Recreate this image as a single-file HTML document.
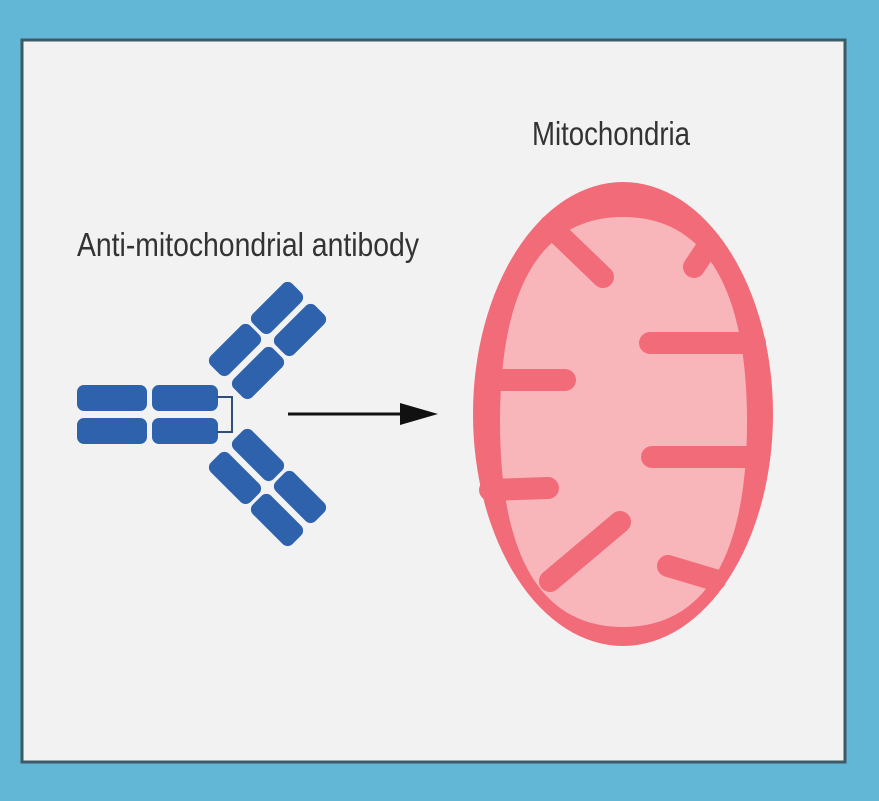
<!DOCTYPE html>
<html><head><style>
html,body{margin:0;padding:0;background:#62b6d6;width:879px;height:801px;overflow:hidden}
svg{display:block}
text{font-family:"Liberation Sans Narrow","Liberation Sans",sans-serif;fill:#333}
</style></head><body>
<svg width="879" height="801" viewBox="0 0 879 801" xmlns="http://www.w3.org/2000/svg">
<rect x="0" y="0" width="879" height="801" fill="#62b6d6"/>
<rect x="22" y="40" width="823" height="722" fill="#f2f2f3" stroke="#3d5a66" stroke-width="3"/>
<text x="248" y="256" font-size="33" text-anchor="middle" textLength="342" lengthAdjust="spacingAndGlyphs">Anti-mitochondrial antibody</text>
<text x="611" y="145" font-size="33" text-anchor="middle" textLength="158" lengthAdjust="spacingAndGlyphs">Mitochondria</text>
<g fill="#2f62ad">
<rect x="77" y="385" width="70" height="26" rx="7"/>
<rect x="152" y="385" width="66" height="26" rx="7"/>
<rect x="77" y="418" width="70" height="26" rx="7"/>
<rect x="152" y="418" width="66" height="26" rx="7"/>
<g transform="translate(235,350) rotate(-45)"><rect x="-28" y="-13" width="56" height="26" rx="7"/></g>
<g transform="translate(258,373) rotate(-45)"><rect x="-28" y="-13" width="56" height="26" rx="7"/></g>
<g transform="translate(277,308) rotate(-45)"><rect x="-28" y="-13" width="56" height="26" rx="7"/></g>
<g transform="translate(300,330) rotate(-45)"><rect x="-28" y="-13" width="56" height="26" rx="7"/></g>
<g transform="translate(235,478) rotate(45)"><rect x="-28" y="-13" width="56" height="26" rx="7"/></g>
<g transform="translate(258,455) rotate(45)"><rect x="-28" y="-13" width="56" height="26" rx="7"/></g>
<g transform="translate(277,520) rotate(45)"><rect x="-28" y="-13" width="56" height="26" rx="7"/></g>
<g transform="translate(300,497) rotate(45)"><rect x="-28" y="-13" width="56" height="26" rx="7"/></g>
</g>
<path d="M217 397 H232 V432 H217" fill="none" stroke="#2f4f7a" stroke-width="2"/>
<line x1="288" y1="414" x2="405" y2="414" stroke="#111" stroke-width="3"/>
<polygon points="400,403 438,414 400,425" fill="#111"/>
<ellipse cx="623" cy="414" rx="150" ry="232" fill="#f26b78"/>
<path d="M623,217 C712,217 747,300 747,422 C747,544 712,627 623,627 C534,627 500,544 500,422 C500,300 534,217 623,217 Z" fill="#f8b6bb"/>
<g stroke="#f26b78" stroke-width="22" stroke-linecap="round" fill="none">
<line x1="550" y1="226" x2="603" y2="277"/>
<line x1="710" y1="243" x2="694" y2="267"/>
<line x1="650" y1="343" x2="755" y2="343"/>
<line x1="490" y1="380" x2="565" y2="380"/>
<line x1="652" y1="457" x2="755" y2="457"/>
<line x1="490" y1="490" x2="548" y2="488"/>
<line x1="620" y1="522" x2="550" y2="581"/>
<line x1="668" y1="566" x2="715" y2="580"/>
</g>
</svg>
</body></html>
